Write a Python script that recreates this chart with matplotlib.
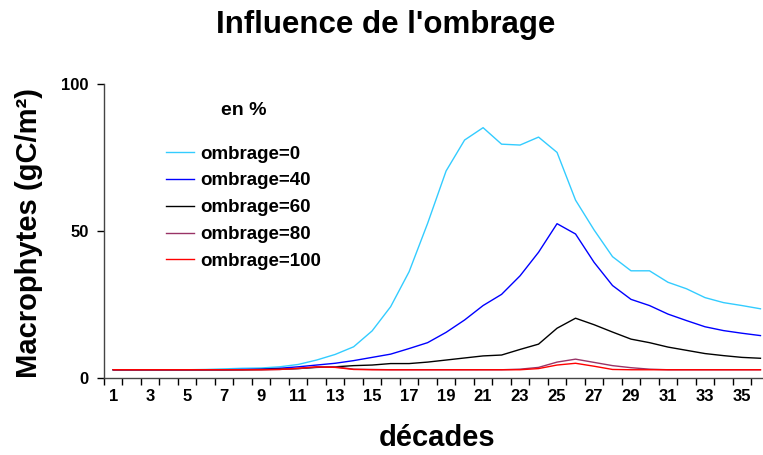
import matplotlib
matplotlib.use("Agg")
import matplotlib.pyplot as plt
import numpy as np

decades = list(range(1, 37))
ombrage_0 = [2.8, 2.8, 2.8, 2.8, 2.8, 2.9, 3.1, 3.3, 3.4, 3.8, 4.6, 6.1, 8.0, 10.6, 16.0, 24.2,
             36.1, 52.5, 70.3, 80.8, 85.0, 79.4, 79.1, 81.8, 76.6, 60.4, 50.3, 41.2, 36.4, 36.4,
             32.5, 30.3, 27.3, 25.6, 24.6, 23.5]
ombrage_40 = [2.8, 2.8, 2.8, 2.8, 2.8, 2.8, 2.8, 2.9, 3.0, 3.3, 3.8, 4.4, 5.0, 5.9, 7.0, 8.1,
              10.0, 12.0, 15.5, 19.7, 24.6, 28.4, 34.7, 42.7, 52.4, 48.9, 39.3, 31.4, 26.7, 24.6,
              21.7, 19.5, 17.4, 16.1, 15.2, 14.4]
ombrage_60 = [2.8, 2.8, 2.8, 2.8, 2.8, 2.8, 2.8, 2.8, 2.9, 3.0, 3.2, 3.6, 3.8, 4.2, 4.4, 4.9,
              4.9, 5.4, 6.1, 6.8, 7.5, 7.8, 9.7, 11.5, 16.9, 20.3, 18.1, 15.6, 13.2, 12.0,
              10.5, 9.4, 8.3, 7.6, 7.0, 6.7]
ombrage_80 = [2.8, 2.8, 2.8, 2.8, 2.8, 2.8, 2.8, 2.8, 2.8, 2.9, 3.2, 3.7, 3.8, 3.0, 2.9, 2.8,
              2.8, 2.8, 2.8, 2.8, 2.8, 2.8, 3.0, 3.6, 5.4, 6.4, 5.3, 4.2, 3.5, 3.0,
              2.8, 2.8, 2.8, 2.8, 2.8, 2.8]
ombrage_100 = [2.8, 2.8, 2.8, 2.8, 2.8, 2.8, 2.8, 2.8, 2.8, 2.9, 3.3, 3.8, 3.6, 2.9, 2.8, 2.8,
               2.8, 2.8, 2.8, 2.8, 2.8, 2.8, 2.8, 3.2, 4.4, 5.0, 4.0, 2.9, 2.8, 2.8,
               2.8, 2.8, 2.8, 2.8, 2.8, 2.8]

series = [
    ("ombrage=0", ombrage_0, "#33CCFF"),
    ("ombrage=40", ombrage_40, "#0000FF"),
    ("ombrage=60", ombrage_60, "#000000"),
    ("ombrage=80", ombrage_80, "#993366"),
    ("ombrage=100", ombrage_100, "#FF0000"),
]

plt.rcParams['font.family'] = ['Liberation Sans', 'DejaVu Sans']
plt.rcParams['font.weight'] = 'bold'

fig = plt.figure(figsize=(7.63, 4.55), dpi=100)
ax = fig.add_axes([104 / 763, (455 - 378) / 455, (769.7 - 104) / 763, (378 - 83.5) / 455])

for name, vals, col in series:
    ax.plot(decades, vals, color=col, lw=1.0, label=name)

ax.set_xlim(0.5, 36.5)
ax.set_ylim(0, 100)
ax.set_yticks([0, 50, 100])
ax.set_xticks(decades[::2])
ax.set_xticks(np.arange(0.5, 37, 1.0), minor=True)
ax.tick_params(axis='x', which='major', length=0, pad=8, labelsize=12)
ax.tick_params(axis='x', which='minor', length=5, width=1, direction='out')
ax.tick_params(axis='y', length=5, width=1, direction='out', labelsize=12, pad=6)
for lbl in ax.get_xticklabels() + ax.get_yticklabels():
    lbl.set_fontweight('bold')

for s in ['top', 'right']:
    ax.spines[s].set_visible(False)
for s in ['left', 'bottom']:
    ax.spines[s].set_color('#444444')
    ax.spines[s].set_linewidth(1.0)

fig.text(386 / 763, 1 - 25 / 455, "Influence de l'ombrage", ha='center', va='center',
         fontsize=22.5, fontweight='bold')
fig.text(437 / 763, 1 - 438 / 455, "décades", ha='center', va='center',
         fontsize=21, fontweight='bold')
fig.text(29 / 763, 1 - 233 / 455, "Macrophytes (gC/m²)", ha='center', va='center',
         rotation=90, fontsize=21, fontweight='bold')

leg = ax.legend(loc='upper left', bbox_to_anchor=(166 / 763, 1 - 102 / 455),
                bbox_transform=fig.transFigure, frameon=False,
                title="en %", fontsize=13.5, title_fontsize=14,
                handlelength=1.5, handletextpad=0.35, labelspacing=0.52,
                borderpad=0, borderaxespad=0)
leg.get_title().set_fontweight('bold')
leg._legend_box.sep = 19
for t in leg.get_texts():
    t.set_fontweight('bold')

fig.savefig("out.png", dpi=100)
